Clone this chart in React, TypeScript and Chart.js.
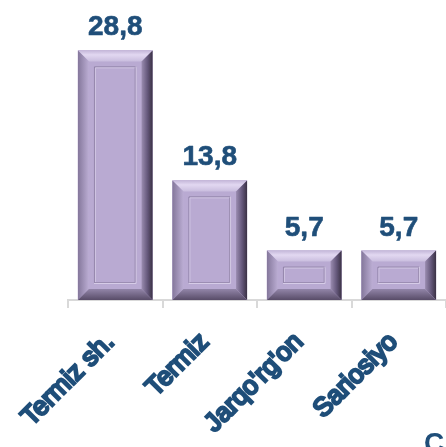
import React, { useEffect, useRef } from 'react';
import { Chart, registerables } from 'chart.js';

Chart.register(...registerables);

const categories = ['Termiz sh.', 'Termiz', "Jarqo'rg'on", 'Sariosiyo'];
const values = [28.8, 13.8, 5.7, 5.7];
const valueLabels = ['28,8', '13,8', '5,7', '5,7'];

const TEXT_COLOR = '#1F4E79';
const FACE = '#B9AAD2';
const FONT = '"Liberation Sans", Arial, sans-serif';

const bevelPlugin = {
  id: 'bevel',
  afterDatasetsDraw(chart: any) {
    const ctx = chart.ctx as CanvasRenderingContext2D;
    const meta = chart.getDatasetMeta(0);
    meta.data.forEach((bar: any, i: number) => {
      const L = bar.x - bar.width / 2;
      const R = bar.x + bar.width / 2;
      const T = Math.min(bar.y, bar.base);
      const B = Math.max(bar.y, bar.base);
      const b = 11;
      ctx.save();
      ctx.fillStyle = FACE;
      ctx.fillRect(L, T, R - L, B - T);
      let g = ctx.createLinearGradient(0, T, 0, T + b);
      g.addColorStop(0, '#C4B7D9');
      g.addColorStop(0.4, '#E2D8F1');
      g.addColorStop(1, '#C9BDDE');
      ctx.fillStyle = g;
      ctx.beginPath();
      ctx.moveTo(L, T); ctx.lineTo(R, T); ctx.lineTo(R - b, T + b); ctx.lineTo(L + b, T + b); ctx.closePath();
      ctx.fill();
      g = ctx.createLinearGradient(L, 0, L + b, 0);
      g.addColorStop(0, '#84779B');
      g.addColorStop(1, '#BBADD3');
      ctx.fillStyle = g;
      ctx.beginPath();
      ctx.moveTo(L, T); ctx.lineTo(L + b, T + b); ctx.lineTo(L + b, B - b); ctx.lineTo(L, B); ctx.closePath();
      ctx.fill();
      g = ctx.createLinearGradient(R - b, 0, R, 0);
      g.addColorStop(0, '#9A8CB0');
      g.addColorStop(0.55, '#64577A');
      g.addColorStop(1, '#3A3144');
      ctx.fillStyle = g;
      ctx.beginPath();
      ctx.moveTo(R, T); ctx.lineTo(R, B); ctx.lineTo(R - b, B - b); ctx.lineTo(R - b, T + b); ctx.closePath();
      ctx.fill();
      g = ctx.createLinearGradient(0, B - b, 0, B);
      g.addColorStop(0, '#9285A8');
      g.addColorStop(1, '#584C68');
      ctx.fillStyle = g;
      ctx.beginPath();
      ctx.moveTo(L, B); ctx.lineTo(R, B); ctx.lineTo(R - b, B - b); ctx.lineTo(L + b, B - b); ctx.closePath();
      ctx.fill();
      const ins = 16;
      if (B - T > 2 * ins + 4) {
        ctx.lineWidth = 1;
        ctx.strokeStyle = '#8F81A7';
        ctx.beginPath();
        ctx.moveTo(L + ins + 0.5, B - ins);
        ctx.lineTo(L + ins + 0.5, T + ins + 0.5);
        ctx.lineTo(R - ins, T + ins + 0.5);
        ctx.stroke();
        ctx.strokeStyle = '#D6CCE7';
        ctx.beginPath();
        ctx.moveTo(R - ins - 0.5, T + ins);
        ctx.lineTo(R - ins - 0.5, B - ins - 0.5);
        ctx.lineTo(L + ins, B - ins - 0.5);
        ctx.stroke();
        ctx.strokeStyle = '#D0C5E2';
        ctx.beginPath();
        ctx.moveTo(L + ins + 1.5, B - ins - 1);
        ctx.lineTo(L + ins + 1.5, T + ins + 1.5);
        ctx.lineTo(R - ins - 1, T + ins + 1.5);
        ctx.stroke();
        ctx.strokeStyle = '#9C8EB3';
        ctx.beginPath();
        ctx.moveTo(R - ins - 1.5, T + ins + 1);
        ctx.lineTo(R - ins - 1.5, B - ins - 1.5);
        ctx.lineTo(L + ins + 1, B - ins - 1.5);
        ctx.stroke();
      }
      ctx.fillStyle = TEXT_COLOR;
      ctx.strokeStyle = TEXT_COLOR;
      ctx.lineWidth = 0.6;
      ctx.lineJoin = 'round';
      ctx.font = 'bold 28px ' + FONT;
      ctx.textAlign = 'center';
      ctx.textBaseline = 'alphabetic';
      ctx.strokeText(valueLabels[i], bar.x, T - 15);
      ctx.fillText(valueLabels[i], bar.x, T - 15);
      ctx.restore();
    });
  },
};

export default function App() {
  const canvasRef = useRef<HTMLCanvasElement | null>(null);

  useEffect(() => {
    document.body.style.margin = '0';
    const canvas = canvasRef.current;
    if (!canvas) return;
    const chart = new Chart(canvas, {
      type: 'bar',
      data: {
        labels: categories,
        datasets: [
          {
            data: values,
            backgroundColor: FACE,
            borderWidth: 0,
            categoryPercentage: 1,
            barPercentage: 0.79,
          },
        ],
      },
      options: {
        responsive: false,
        animation: false,
        layout: { padding: { left: 68, top: 1, right: 0, bottom: 0 } },
        plugins: {
          legend: { display: false },
          tooltip: { enabled: false },
        },
        scales: {
          x: {
            offset: true,
            border: { display: true, color: '#D9D9D9', width: 2 },
            grid: {
              display: true,
              offset: true,
              drawOnChartArea: false,
              drawTicks: true,
              tickLength: 8,
              color: '#D9D9D9',
              lineWidth: 2,
            },
            ticks: {
              autoSkip: false,
              minRotation: 45,
              maxRotation: 45,
              padding: 19,
              labelOffset: -5,
              color: TEXT_COLOR,
              textStrokeColor: TEXT_COLOR,
              textStrokeWidth: 2.5,
              font: { family: FONT, size: 26, weight: 'normal' },
            },
            afterFit: (scale: any) => {
              scale.height = 147;
            },
          },
          y: {
            display: false,
            min: 0,
            max: 34.5,
          },
        },
      },
      plugins: [bevelPlugin],
    });
    return () => chart.destroy();
  }, []);

  return (
    <div style={{ position: 'relative', width: 446, height: 447, overflow: 'hidden', background: '#fff' }}>
      <canvas ref={canvasRef} width={446} height={447} style={{ display: 'block' }} />
      <span
        style={{
          position: 'absolute',
          left: 424,
          top: 429,
          font: 'bold 28px ' + FONT,
          lineHeight: 1,
          color: TEXT_COLOR,
        }}
      >
        C
      </span>
    </div>
  );
}
